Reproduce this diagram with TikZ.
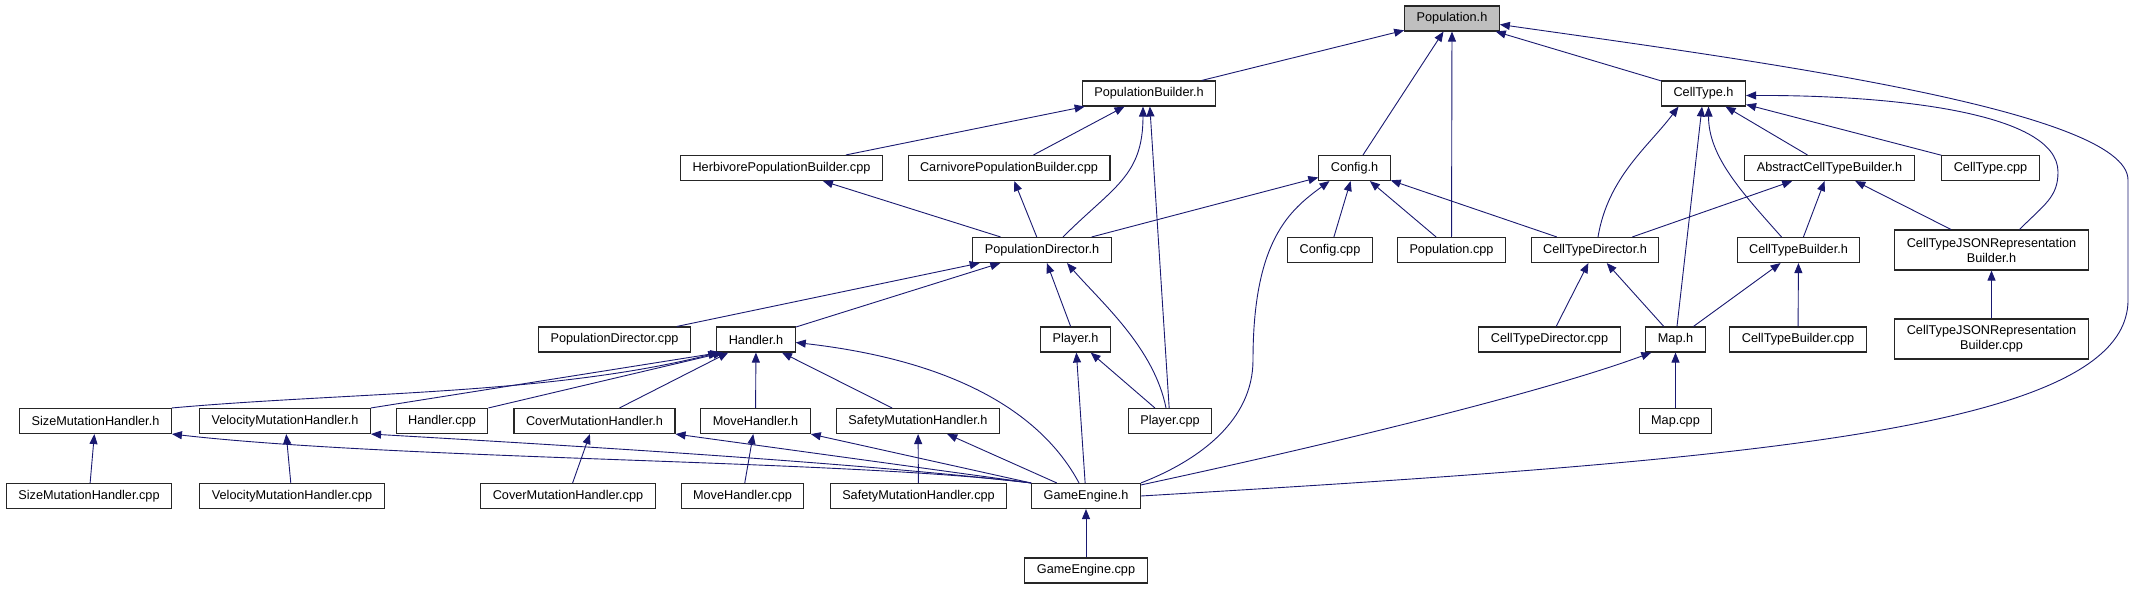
\documentclass[tikz,border=0pt]{standalone}
\usepackage{fontspec}
\setmainfont{Liberation Sans}
\usepackage{xcolor}
\usepackage{tikz}
\usetikzlibrary{arrows.meta}
\definecolor{edgeblue}{HTML}{191970}
\definecolor{rootgray}{HTML}{BFBFBF}

\begin{document}
\begin{tikzpicture}[
  x=1pt, y=-1pt,
  file/.style={rectangle, draw=black!85, line width=1.1pt, fill=white,
    inner xsep=12pt, inner ysep=0pt, minimum height=25pt, align=center,
    font=\fontsize{12.7}{15}\selectfont},
  root/.style={file, fill=rootgray},
  tall/.style={file, minimum height=40pt},
  dep/.style={-{Triangle[length=10pt,width=8pt]}, draw=edgeblue, line width=0.9pt}
]
\useasboundingbox (0,0) rectangle (2133,589);

% rows of files
\node[root] (poph) at (1452,18.5) {Population.h};
\node[file] (pbh) at (1149,93.5) {PopulationBuilder.h};
\node[file] (cth) at (1703.5,93.5) {CellType.h};
\node[file] (herbcpp) at (781.5,168) {HerbivorePopulationBuilder.cpp};
\node[file] (carncpp) at (1009,168) {CarnivorePopulationBuilder.cpp};
\node[file] (cfgh) at (1354.5,168) {Config.h};
\node[file] (acbh) at (1829.5,168) {AbstractCellTypeBuilder.h};
\node[file] (ctcpp) at (1990.5,168) {CellType.cpp};
\node[file] (pdh) at (1042,250) {PopulationDirector.h};
\node[file] (cfgcpp) at (1330,250) {Config.cpp};
\node[file] (popcpp) at (1451.5,250) {Population.cpp};
\node[file] (ctdh) at (1595,250) {CellTypeDirector.h};
\node[file] (ctbh) at (1798.5,250) {CellTypeBuilder.h};
\node[tall] (jsonh) at (1991.5,250) {CellTypeJSONRepresentation\\Builder.h};
\node[file] (pdcpp) at (614.5,339.5) {PopulationDirector.cpp};
\node[file] (hndh) at (756,339.5) {Handler.h};
\node[file] (plh) at (1075.5,339.5) {Player.h};
\node[file] (ctdcpp) at (1549.5,339.5) {CellTypeDirector.cpp};
\node[file] (maph) at (1675.5,339.5) {Map.h};
\node[file] (ctbcpp) at (1798,339.5) {CellTypeBuilder.cpp};
\node[tall] (jsoncpp) at (1991.5,339) {CellTypeJSONRepresentation\\Builder.cpp};
\node[file] (sizeh) at (95.5,421) {SizeMutationHandler.h};
\node[file] (velh) at (285,421) {VelocityMutationHandler.h};
\node[file] (hndcpp) at (442,421) {Handler.cpp};
\node[file] (coverh) at (594.5,421) {CoverMutationHandler.h};
\node[file] (moveh) at (755.5,421) {MoveHandler.h};
\node[file] (safeh) at (918,421) {SafetyMutationHandler.h};
\node[file] (plcpp) at (1170,421) {Player.cpp};
\node[file] (mapcpp) at (1675.5,421) {Map.cpp};
\node[file] (sizecpp) at (89,496) {SizeMutationHandler.cpp};
\node[file] (velcpp) at (292,496) {VelocityMutationHandler.cpp};
\node[file] (covercpp) at (568,496) {CoverMutationHandler.cpp};
\node[file] (movecpp) at (742.5,496) {MoveHandler.cpp};
\node[file] (safecpp) at (918.5,496) {SafetyMutationHandler.cpp};
\node[file] (geh) at (1086,496) {GameEngine.h};
\node[file] (gecpp) at (1086,570.5) {GameEngine.cpp};

% includes of Population.h
\draw[dep] (pbh) -- (poph);
\draw[dep] (cfgh) -- (poph);
\draw[dep] (popcpp) -- (poph);
\draw[dep] (cth) -- (poph);
\draw[dep] (geh.east) .. controls (1750,460) and (2128,430) .. (2128,300)
  -- (2128,180) .. controls (2128,110) and (1750,60) .. ([yshift=-6]poph.east);

% PopulationBuilder.h and Config.h
\draw[dep] (herbcpp) -- (pbh);
\draw[dep] (carncpp) -- (pbh);
\draw[dep] ([xshift=21]pdh.north) .. controls +(50,-50) and +(0,70) .. ([xshift=-6]pbh.south);
\draw[dep] (plcpp) -- (pbh);
\draw[dep] (pdh) -- (cfgh);
\draw[dep] (ctdh) -- (cfgh);
\draw[dep] (cfgcpp) -- (cfgh);
\draw[dep] (popcpp) -- (cfgh);
\draw[dep] (geh.north east) .. controls (1200,460) and (1253,420) .. (1253,360)
  .. controls (1253,240) and (1290,210) .. ([xshift=-25]cfgh.south);

% PopulationDirector.h
\draw[dep] (pdcpp) -- (pdh);
\draw[dep] (hndh) -- (pdh);
\draw[dep] (plh) -- (pdh);
\draw[dep] ([xshift=-4]plcpp.north) .. controls +(-12,-60) and +(35,40) .. ([xshift=25]pdh.south);
\draw[dep] (pdh) -- (herbcpp);
\draw[dep] (pdh) -- (carncpp);

% CellType.h
\draw[dep] ([xshift=3]ctdh.north) .. controls +(10,-60) and +(-30,40) .. ([xshift=-25]cth.south);
\draw[dep] (maph) -- (cth);
\draw[dep] ([xshift=-17]ctbh.north) .. controls +(-40,-45) and +(0,50) .. ([xshift=5]cth.south);
\draw[dep] (acbh) -- (cth);
\draw[dep] (ctcpp) -- (cth);
\draw[dep] ([xshift=28]jsonh.north) .. controls +(25,-25) and +(0,25) .. (2058,172)
  .. controls (2058,110) and (1880,95) .. ([yshift=-2]cth.east);

% builders and directors
\draw[dep] (ctdh) -- (acbh);
\draw[dep] (ctbh) -- (acbh);
\draw[dep] (jsonh) -- (acbh);
\draw[dep] (ctdcpp) -- (ctdh);
\draw[dep] (maph) -- (ctdh);
\draw[dep] (maph) -- (ctbh);
\draw[dep] (ctbcpp) -- (ctbh);
\draw[dep] (jsoncpp) -- (jsonh);
\draw[dep] (mapcpp) -- (maph);
\draw[dep] ([yshift=-2]geh.north east) .. controls (1350,440) and (1550,390) .. ([xshift=6]maph.south west);

% Handler.h
\draw[dep] (sizeh.north east) .. controls (350,392) and (550,395) .. ([xshift=2]hndh.south west);
\draw[dep] (velh.north east) -- ([xshift=4]hndh.south west);
\draw[dep] (hndcpp.north east) -- ([xshift=7]hndh.south west);
\draw[dep] ([xshift=25]coverh.north) -- ([xshift=12]hndh.south west);
\draw[dep] (moveh) -- (hndh);
\draw[dep] (safeh) -- (hndh);
\draw[dep] ([xshift=-7]geh.north) .. controls (1040,410) and (950,360) .. ([yshift=-3]hndh.east);

% Player.h
\draw[dep] (plcpp) -- (plh);
\draw[dep] (geh) -- (plh);

% GameEngine.h and the handlers
\draw[dep] (geh.north west) .. controls (850,460) and (400,460) .. (sizeh.south east);
\draw[dep] (geh.north west) .. controls (850,462) and (560,445) .. (velh.south east);
\draw[dep] (geh.north west) -- (coverh.south east);
\draw[dep] (geh.north west) -- (moveh.south east);
\draw[dep] (geh) -- (safeh);
\draw[dep] (sizecpp) -- (sizeh);
\draw[dep] (velcpp) -- (velh);
\draw[dep] (covercpp) -- (coverh);
\draw[dep] (movecpp) -- (moveh);
\draw[dep] (safecpp) -- (safeh);
\draw[dep] (gecpp) -- (geh);
\end{tikzpicture}
\end{document}
